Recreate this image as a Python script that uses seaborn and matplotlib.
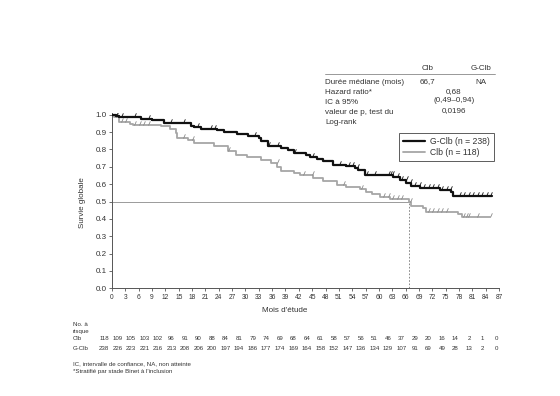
import numpy as np
import pandas as pd
import matplotlib
matplotlib.use("Agg")
import matplotlib.pyplot as plt
import seaborn as sns
from matplotlib.lines import Line2D

sns.set_theme(style="ticks")
plt.rcParams['font.family'] = ['Liberation Sans', 'DejaVu Sans']

# ---------------- data ----------------
gclb_t = [0, 0.8, 1.5, 6.5, 9, 11.6, 17.7, 18.5, 20, 23.7, 25.2, 28, 30.5, 33, 33.6, 35, 38, 39.5,
          41, 43.7, 44.6, 46, 47.5, 49.7, 52.7, 54.6, 55.3, 56.8, 63.2, 64.7, 66.2, 67.3, 69.2,
          73.7, 76.3, 76.7, 85.5]
gclb_s = [1.0, 0.99, 0.985, 0.978, 0.971, 0.953, 0.935, 0.929, 0.92, 0.912, 0.902, 0.89, 0.88,
          0.866, 0.848, 0.818, 0.808, 0.795, 0.782, 0.769, 0.757, 0.744, 0.731, 0.712, 0.702,
          0.692, 0.68, 0.655, 0.641, 0.626, 0.607, 0.592, 0.58, 0.567, 0.552, 0.53, 0.53]
clb_t = [0, 0.5, 1.5, 4, 4.7, 11, 13, 14.3, 14.7, 17, 18.4, 23, 26, 27.8, 30.4, 33.5, 35.7, 37.2,
         38, 41, 42.2, 45.2, 47.5, 50.5, 52.7, 55.7, 57.2, 58.4, 60.2, 62.5, 66.7, 67.3, 69.9,
         70.7, 77.8, 78.6, 85]
clb_s = [1.0, 0.985, 0.956, 0.947, 0.94, 0.933, 0.917, 0.894, 0.865, 0.856, 0.84, 0.818, 0.79,
         0.77, 0.757, 0.74, 0.72, 0.70, 0.673, 0.664, 0.654, 0.636, 0.62, 0.597, 0.584, 0.571,
         0.557, 0.542, 0.526, 0.513, 0.496, 0.476, 0.462, 0.438, 0.427, 0.41, 0.41]
gclb_cens = [1, 2, 5, 8, 13, 16, 19, 22, 23, 32, 35, 37, 41, 45, 51, 53, 54, 55, 57, 59, 62, 62.5,
             63, 64, 65, 66, 67, 68, 69, 70, 71, 72, 73, 74, 75, 76, 78, 79, 80, 81, 82, 83, 84, 85]
clb_cens = [1, 2, 3, 5, 6, 7, 8, 16, 18, 26, 37, 43, 45, 52, 56, 61, 62, 63, 64, 65, 67, 71, 72,
            73, 74, 75, 79, 79.5, 80, 82, 85]
median_clb = 66.7

ticks = list(range(0, 88, 3))
risk_clb = [118, 109, 105, 103, 102, 96, 91, 90, 88, 84, 81, 79, 74, 69, 68, 64, 61, 58, 57, 56,
            51, 46, 37, 29, 20, 16, 14, 2, 1, 0]
risk_gclb = [238, 226, 223, 221, 216, 213, 208, 206, 200, 197, 194, 186, 177, 174, 169, 164, 158,
             152, 147, 136, 134, 129, 107, 91, 69, 49, 28, 13, 2, 0]

labels = {"G-Clb": "G-Clb (n = 238)", "Clb": "Clb (n = 118)"}
colors = {"G-Clb": "#111111", "Clb": "#a6a6a6"}

df_g = pd.DataFrame({"t": gclb_t, "s": gclb_s})
df_c = pd.DataFrame({"t": clb_t, "s": clb_s})

def surv_at(tt, ss, x):
    idx = np.searchsorted(np.array(tt), np.array(x), side="right") - 1
    return np.array(ss)[idx]

cens_g = pd.DataFrame({"t": gclb_cens, "s": surv_at(gclb_t, gclb_s, gclb_cens)})
cens_c = pd.DataFrame({"t": clb_cens, "s": surv_at(clb_t, clb_s, clb_cens)})

# ---------------- figure ----------------
W, H = 560, 396
fig = plt.figure(figsize=(W / 100, H / 100), dpi=100)
fig.patch.set_facecolor("white")
ax = fig.add_axes([112 / W, 1 - 288.3 / H, (499 - 112) / W, (288.3 - 113) / H])
ax.set_facecolor("white")

txt = "#333333"
fs = 5.8
fs_small = 4.4
fs_risk = 4.4

# reference lines
ax.plot([0, median_clb], [0.5, 0.5], color="#9a9a9a", lw=0.7, zorder=1)
ax.plot([median_clb, median_clb], [0, 0.5], color="#777777", lw=0.6, ls=(0, (2, 2)), zorder=1)

sns.lineplot(data=df_c, x="t", y="s", drawstyle="steps-post", estimator=None, sort=False,
             color=colors["Clb"], linewidth=1.3, ax=ax, zorder=2)
sns.lineplot(data=df_g, x="t", y="s", drawstyle="steps-post", estimator=None, sort=False,
             color=colors["G-Clb"], linewidth=1.6, ax=ax, zorder=3)
tick_marker = [(0, 0), (0.45, 1.0)]
ax.plot(cens_c["t"], cens_c["s"], ls="none", marker=tick_marker, ms=6, mew=0.6,
        color="#8a8a8a", zorder=2)
ax.plot(cens_g["t"], cens_g["s"], ls="none", marker=tick_marker, ms=6, mew=0.6,
        color="#111111", zorder=3)

ax.set_xlim(0, 87)
ax.set_ylim(0, 1.01)
ax.set_xticks(ticks)
ax.set_xticklabels([str(t) for t in ticks], fontsize=4.8, color=txt)
ax.set_yticks(np.arange(0, 1.01, 0.1))
ax.set_yticklabels([f"{v:.1f}" for v in np.arange(0, 1.01, 0.1)], fontsize=fs, color=txt)
ax.tick_params(axis="both", length=2.5, width=0.6, color="#555555", pad=1.5)
for s in ["top", "right"]:
    ax.spines[s].set_visible(False)
for s in ["left", "bottom"]:
    ax.spines[s].set_color("#555555")
    ax.spines[s].set_linewidth(0.7)
ax.set_xlabel("")
ax.set_ylabel("")

fig.text(82 / W, 1 - 203 / H, "Survie globale", rotation=90, ha="center", va="center",
         fontsize=fs, color=txt)
fig.text(285 / W, 1 - 311 / H, "Mois d'étude", ha="center", va="center", fontsize=fs, color=txt)

# legend
handles = [Line2D([], [], color=colors["G-Clb"], lw=1.6),
           Line2D([], [], color=colors["Clb"], lw=1.3)]
leg = fig.legend(handles, [labels["G-Clb"], labels["Clb"]], loc="upper left",
                 bbox_to_anchor=(399 / W, 1 - 133 / H), fontsize=6.2, frameon=True,
                 fancybox=False, handlelength=2.6, borderpad=0.45, labelspacing=0.3,
                 handletextpad=0.6, borderaxespad=0)
leg.get_frame().set_edgecolor("#333333")
leg.get_frame().set_linewidth(0.7)
for t in leg.get_texts():
    t.set_color(txt)

# stats table
def ft(x, y, s, size=fs, **kw):
    fig.text(x / W, 1 - y / H, s, fontsize=size, color=txt, va="center", **kw)

ft(428, 68, "Clb", ha="center")
ft(481, 68, "G-Clb", ha="center")
fig.add_artist(Line2D([325 / W, 495 / W], [1 - 74 / H, 1 - 74 / H], color="#888888", lw=0.6))
ft(325, 83, "Durée médiane (mois)", ha="left")
ft(427, 82, "66,7", ha="center")
ft(481, 82, "NA", ha="center")
ft(325, 93, "Hazard ratio*", ha="left")
ft(454, 92, "0,68", ha="center")
ft(325, 102, "IC à 95%", ha="left")
ft(454, 101, "(0,49–0,94)", ha="center")
ft(325, 112, "valeur de p, test du", ha="left")
ft(454, 111, "0,0196", ha="center")
ft(325, 122, "Log-rank", ha="left")

# risk table
ft(73, 324, "No. à", size=fs_small, ha="left")
ft(73, 332, "risque", size=fs_small, ha="left")
ft(73, 339, "Clb", size=fs_small, ha="left")
ft(73, 348, "G-Clb", size=fs_small, ha="left")
n = len(ticks)
for i, (a, b) in enumerate(zip(risk_clb, risk_gclb)):
    px = 104 + i * (496 - 104) / (n - 1)
    ft(px, 339, str(a), size=fs_risk, ha="center")
    ft(px, 348, str(b), size=fs_risk, ha="center")

ft(73, 364, "IC, intervalle de confiance, NA, non atteinte", size=fs_small, ha="left")
ft(73, 372, "*Stratifié par stade Binet à l'inclusion", size=fs_small, ha="left")

fig.savefig("out.png", dpi=100)
